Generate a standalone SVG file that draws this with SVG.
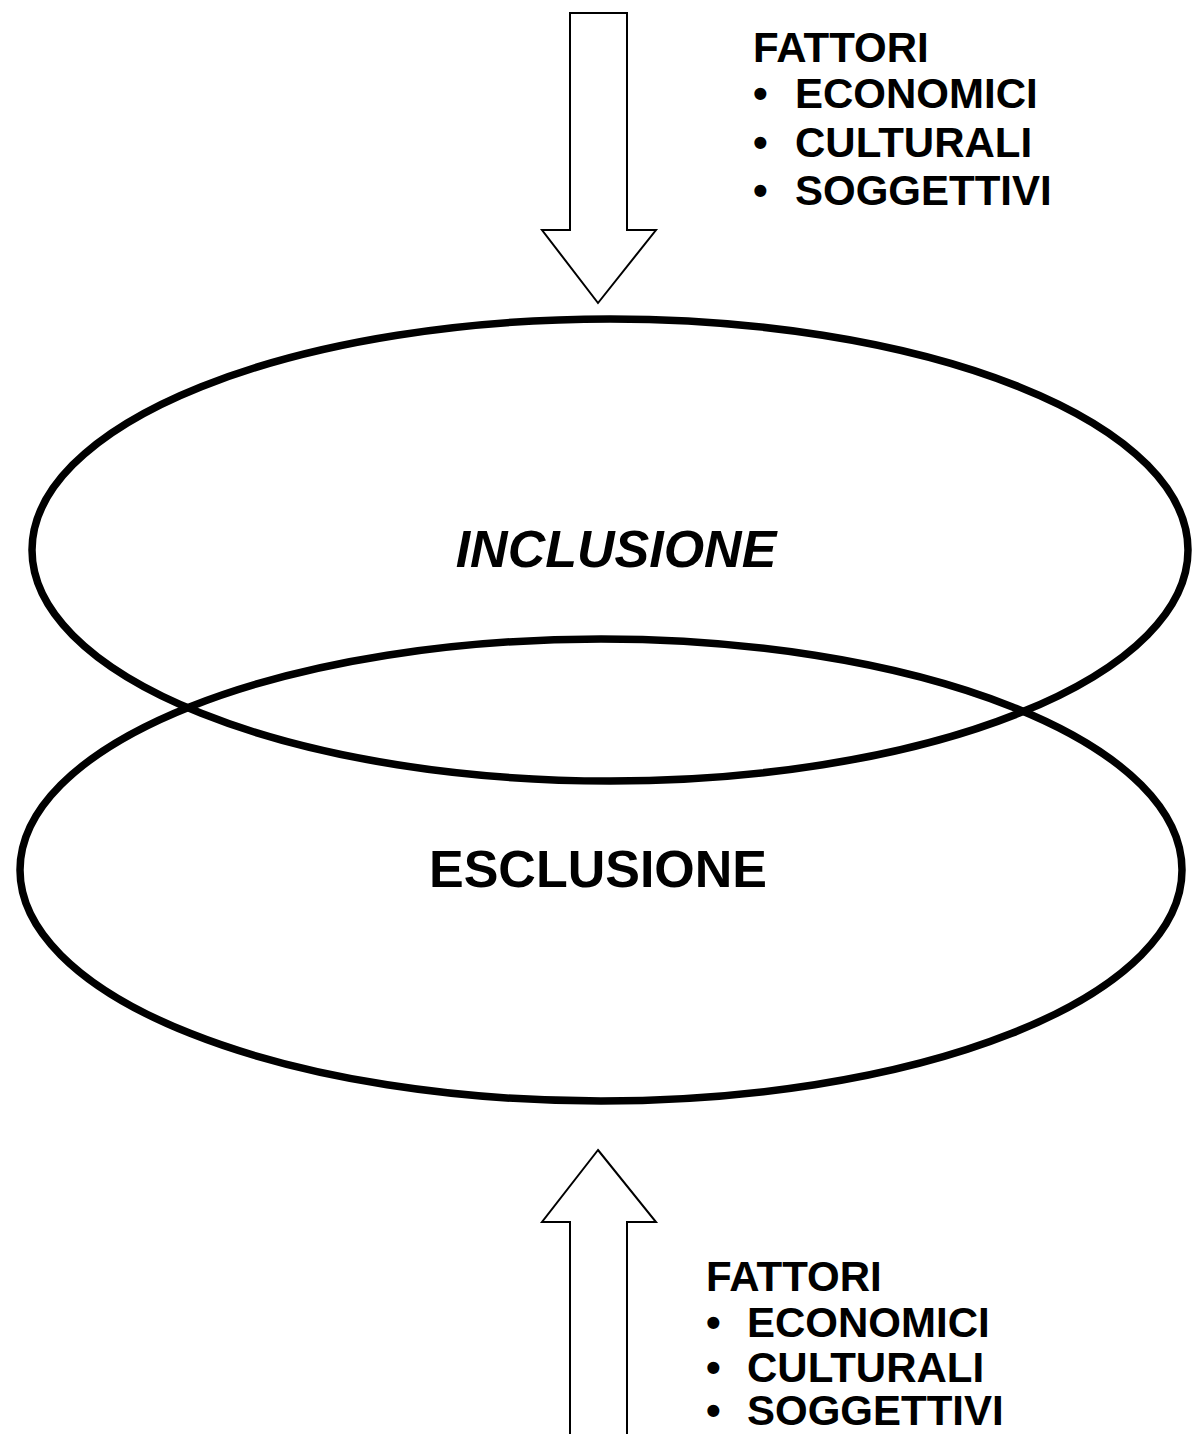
<svg xmlns="http://www.w3.org/2000/svg" width="1193" height="1434" viewBox="0 0 1193 1434">
<style>
.ell{fill:none;stroke:#000;stroke-width:7.5}
.arr{fill:#fff;stroke:#000;stroke-width:2;stroke-linejoin:miter}
.lst{font-family:"Liberation Sans",Arial,sans-serif;font-weight:bold;font-size:42px;fill:#000}
.lbl{font-family:"Liberation Sans",Arial,sans-serif;font-weight:bold;font-size:52px;fill:#000;text-anchor:middle}
</style>
<rect width="1193" height="1434" fill="#fff"/>
<g id="inclusione">
<ellipse class="ell" cx="610" cy="550" rx="578" ry="231"/>
<text class="lbl" x="616" y="567" font-style="italic">INCLUSIONE</text>
</g>
<g id="esclusione">
<ellipse class="ell" cx="601" cy="870" rx="581" ry="231"/>
<text class="lbl" x="598" y="887">ESCLUSIONE</text>
</g>
<g id="connectors">
<polygon id="arrow-down" class="arr" points="570,13 627,13 627,230 656,230 598,303 542,230 570,230"/>
<polygon id="arrow-up" class="arr" points="598,1150 656,1222 627,1222 627,1440 570,1440 570,1222 542,1222"/>
</g>
<g id="fattori-top" class="lst">
<text x="753" y="62">FATTORI</text>
<text x="753" y="108">•</text><text x="795" y="108">ECONOMICI</text>
<text x="753" y="157">•</text><text x="795" y="157">CULTURALI</text>
<text x="753" y="205">•</text><text x="795" y="205">SOGGETTIVI</text>
</g>
<g id="fattori-bottom" class="lst">
<text x="706" y="1291">FATTORI</text>
<text x="706" y="1337">•</text><text x="747" y="1337">ECONOMICI</text>
<text x="706" y="1382">•</text><text x="747" y="1382">CULTURALI</text>
<text x="706" y="1425">•</text><text x="747" y="1425">SOGGETTIVI</text>
</g>
</svg>
